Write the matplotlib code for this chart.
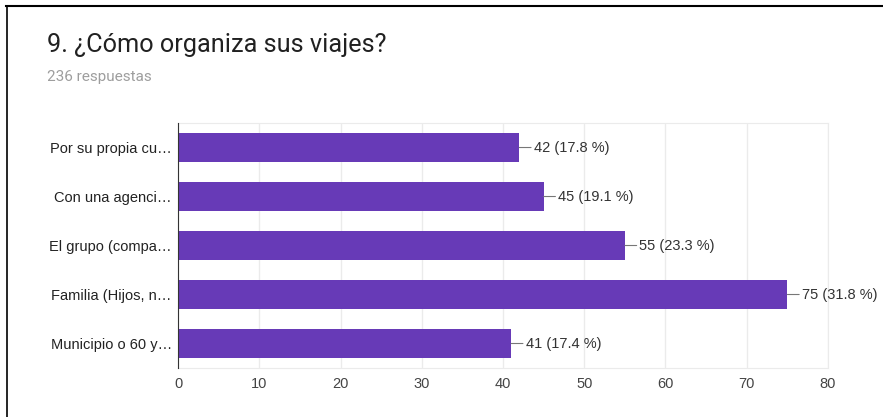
import matplotlib.pyplot as plt
from matplotlib.lines import Line2D

categories = ['Por su propia cu…', 'Con una agenci…', 'El grupo (compa…',
              'Familia (Hijos, n…', 'Municipio o 60 y…']
values = [42, 45, 55, 75, 41]
total = 236

plt.rcParams['font.family'] = ['Liberation Sans', 'DejaVu Sans']

fig = plt.figure(figsize=(8.83, 4.17), dpi=100)
ax = fig.add_axes([0.2016, 0.1175, 0.7361, 0.5875])

pos = list(range(len(categories)))
ax.barh(pos, values, height=0.6, color='#673ab7', zorder=3)
ax.set_ylim(len(categories) - 0.5, -0.5)
ax.set_xlim(0, 80)
ax.set_xticks(range(0, 81, 10))
ax.set_yticks(pos)
ax.set_yticklabels(categories)
ax.tick_params(axis='both', length=0, labelsize=10.5, labelcolor='#222222')
ax.tick_params(axis='y', pad=4.5)
ax.tick_params(axis='x', pad=6.5, labelcolor='#444444')
ax.grid(axis='x', color='#ebebeb', linewidth=1, zorder=0)

for s in ['top', 'right', 'bottom']:
    ax.spines[s].set_color('#ebebeb')
ax.spines['left'].set_color('#333333')
ax.spines['left'].set_zorder(4)

for i, v in enumerate(values):
    pct = v / total * 100
    ax.annotate(f'{v} ({pct:.1f} %)', xy=(v, i), xytext=(10.5, 0),
                textcoords='offset points', va='center', ha='left',
                fontsize=10.5, color='#333333',
                arrowprops=dict(arrowstyle='-', color='#777777', lw=0.8,
                                shrinkA=0, shrinkB=0))

fig.text(0.0532, 0.875, '9. ¿Cómo organiza sus viajes?', fontsize=18.2,
         family='Roboto', color='#212121', va='baseline')
fig.text(0.0532, 0.806, '236 respuestas', fontsize=11, family='Roboto',
         color='#9e9e9e', va='baseline')

# black frame on top and left
fig.add_artist(Line2D([0.007, 1.0], [0.986, 0.986], color='black', lw=1.5))
fig.add_artist(Line2D([0.008, 0.008], [0.0, 0.986], color='black', lw=1.2))

fig.savefig('out.png', dpi=100)
